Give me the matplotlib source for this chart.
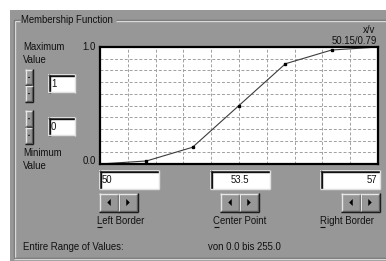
import matplotlib
matplotlib.use("Agg")
import matplotlib.pyplot as plt
from matplotlib.patches import Rectangle, Polygon

# ---- data ----
x_vals = [50.0, 51.17, 52.33, 53.5, 54.67, 55.83, 57.0]
y_vals = [0.0, 0.026, 0.143, 0.5, 0.857, 0.974, 1.0]
marker_idx = [1, 2, 3, 4, 5]
x_min, x_max = 50.0, 57.0
y_min, y_max = 0.0, 1.0
title = "Membership Function"
left_val, center_val, right_val = "50", "53.5", "57"
max_val, min_val = "1", "0"
cursor_text = ["x/v", "50.15/0.79"]
range_text = "von 0.0 bis 255.0"

W, H = 386, 261
BG = "#979797"
FS = 6.9
FONT = "Liberation Sans"
plt.rcParams['font.family'] = [FONT, 'DejaVu Sans']

fig = plt.figure(figsize=(W / 100, H / 100), dpi=100)
fig.patch.set_facecolor("white")
ui = fig.add_axes([0, 0, 1, 1])
ui.set_xlim(0, W)
ui.set_ylim(H, 0)
ui.axis("off")

# dialog background
ui.add_patch(Rectangle((10, 10), W - 10, H - 10, facecolor=BG, edgecolor="none"))

def hline(x0, x1, y, c, lw=1.0):
    ui.plot([x0, x1], [y, y], color=c, lw=lw, solid_capstyle="butt")

def vline(x, y0, y1, c, lw=1.0):
    ui.plot([x, x], [y0, y1], color=c, lw=lw, solid_capstyle="butt")

# group box (etched)
hline(14, 20, 20, "#6a6a6a"); hline(14, 20, 21, "#d8d8d8")
hline(116, W, 20, "#6a6a6a"); hline(116, W, 21, "#d8d8d8")
vline(14, 20, 258, "#6a6a6a"); vline(15, 21, 258, "#d8d8d8")
hline(14, W, 258, "#6a6a6a"); hline(14, W, 259, "#d8d8d8")

def txt(x, y, s, ha="left", **kw):
    ui.text(x, y, s, ha=ha, va="center", fontsize=FS, color="#111111", **kw)

txt(21, 20, title)
txt(23, 47, "Maximum"); txt(23, 60, "Value")
txt(23, 153, "Minimum"); txt(23, 166, "Value")
txt(96, 47.5, "1.0", ha="right")
txt(96, 160.5, "0.0", ha="right")
txt(375, 30, cursor_text[0], ha="right")
txt(377, 40.5, cursor_text[1], ha="right")
txt(23, 247, "Entire Range of Values:")
txt(208, 247, range_text)

def button(x, y, w, h):
    ui.add_patch(Rectangle((x, y), w, h, facecolor=BG, edgecolor="none"))
    hline(x, x + w, y + 0.5, "#e6e6e6"); vline(x + 0.5, y, y + h, "#e6e6e6")
    hline(x, x + w, y + h - 0.5, "#101010"); vline(x + w - 0.5, y, y + h, "#101010")
    hline(x + 1, x + w - 1, y + h - 1.5, "#5a5a5a"); vline(x + w - 1.5, y + 1, y + h - 1, "#5a5a5a")

def tri(cx, cy, s, d):
    if d == "left":
        pts = [(cx + s * 0.5, cy - s), (cx + s * 0.5, cy + s), (cx - s * 0.5, cy)]
    elif d == "right":
        pts = [(cx - s * 0.5, cy - s), (cx - s * 0.5, cy + s), (cx + s * 0.5, cy)]
    elif d == "up":
        pts = [(cx - s, cy + s * 0.5), (cx + s, cy + s * 0.5), (cx, cy - s * 0.5)]
    else:
        pts = [(cx - s, cy - s * 0.5), (cx + s, cy - s * 0.5), (cx, cy + s * 0.5)]
    ui.add_patch(Polygon(pts, closed=True, facecolor="black", edgecolor="none"))

def editbox(x, y, w, h, s, align):
    ui.add_patch(Rectangle((x, y), w, h, facecolor="white", edgecolor="none"))
    hline(x, x + w, y + 0.5, "#505050"); vline(x + 0.5, y, y + h, "#505050")
    hline(x + 1, x + w, y + 1.5, "#101010"); vline(x + 1.5, y + 1, y + h, "#101010")
    hline(x, x + w, y + h - 0.5, "#e0e0e0"); vline(x + w - 0.5, y, y + h, "#e0e0e0")
    if align == "left":
        txt(x + 3, y + h / 2 + 0.5, s)
    elif align == "center":
        txt(x + w / 2, y + h / 2 + 0.5, s, ha="center")
    else:
        txt(x + w - 3, y + h / 2 + 0.5, s, ha="right")

# spinners
for (y0, bh, val, by) in [(69, 16.5, max_val, 74), (110, 17, min_val, 117)]:
    button(25, y0, 8, bh); tri(29, y0 + bh / 2, 1.3, "up")
    button(25, y0 + bh, 8, bh); tri(29, y0 + bh * 1.5, 1.3, "down")
    editbox(48, by, 27, 18.5, val, "left")

# bottom edit boxes and arrow buttons
for (bx, val, align, ax_) in [(99, left_val, "left", 99),
                              (210, center_val, "center", 220),
                              (320, right_val, "right", 341)]:
    editbox(bx, 170, 60, 19, val, align)
    button(ax_, 193, 20, 19); tri(ax_ + 10, 202.5, 3.5, "left")
    button(ax_ + 19, 193, 20, 19); tri(ax_ + 29, 202.5, 3.5, "right")

txt(97, 221, "Left Border"); hline(97, 102, 227, "#111111", 0.8)
txt(240, 221, "Center Point", ha="center"); hline(214, 219, 227, "#111111", 0.8)
txt(320, 221, "Right Border"); hline(320, 325, 227, "#111111", 0.8)

# ---- the chart ----
ax = fig.add_axes([100 / W, 1 - 164 / H, 278 / W, 117 / H])
ax.set_facecolor("white")
ax.set_xlim(x_min, x_max)
ax.set_ylim(y_min, y_max)
ax.set_xticks([x_min + (x_max - x_min) * i / 10 for i in range(11)])
ax.set_yticks([y_min + (y_max - y_min) * i / 10 for i in range(11)])
ax.tick_params(length=0, labelbottom=False, labelleft=False)
ax.grid(True, color="#a0a0a0", lw=0.7, ls=(0, (3, 2)))
ax.set_axisbelow(True)
for s in ax.spines.values():
    s.set_color("black")
    s.set_linewidth(1.6)
ax.plot(x_vals, y_vals, color="#3c3c3c", lw=0.8, clip_on=False)
ax.plot([x_vals[i] for i in marker_idx], [y_vals[i] for i in marker_idx],
        ls="none", marker="s", ms=2.1, color="black")

fig.savefig("out.png", dpi=100)
